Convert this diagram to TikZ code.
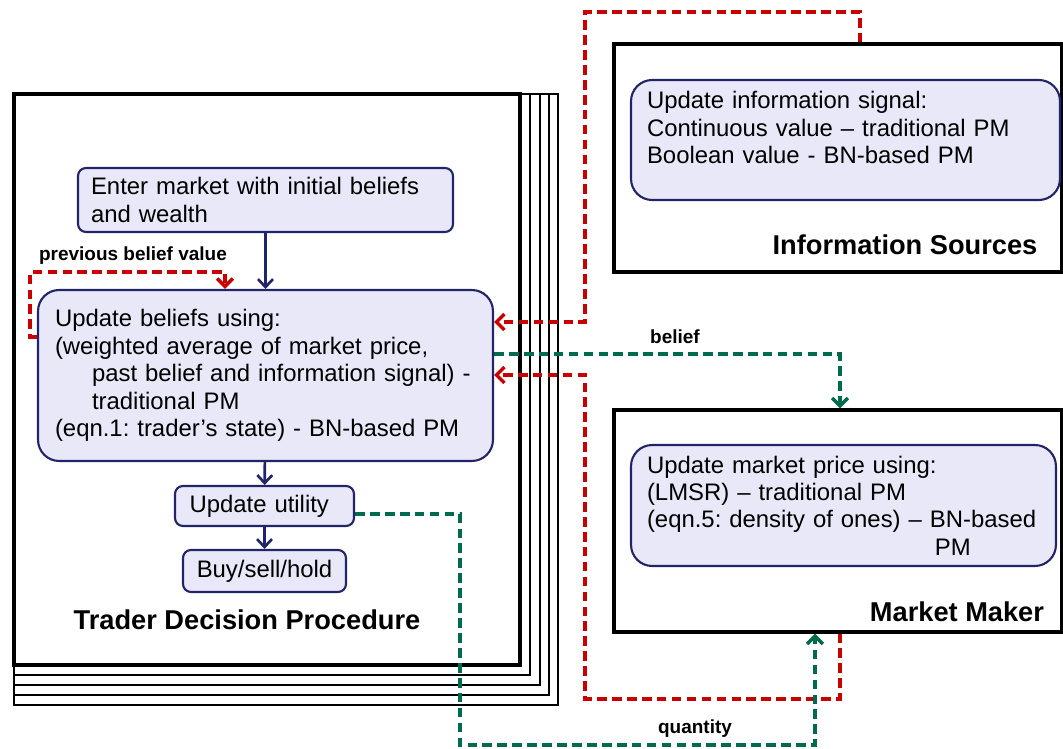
\documentclass[tikz,border=0pt]{standalone}
\usepackage{fontspec}
\setmainfont{Liberation Sans}
\usetikzlibrary{arrows.meta}
\definecolor{boxBorder}{RGB}{35,35,105}
\definecolor{boxFill}{RGB}{232,232,248}
\definecolor{infoRed}{RGB}{200,0,0}
\definecolor{tradeGreen}{RGB}{0,106,78}
\newcommand{\mainSize}{\fontsize{13.6}{15.6}\selectfont\frenchspacing}
\newcommand{\titleSize}{\fontsize{15.5}{18}\selectfont}
\newcommand{\labelSize}{\fontsize{10.8}{13}\selectfont}
\tikzstyle{pixelGrid} = [x = 0.02cm, y = -0.02cm]
\tikzstyle{stepBox} = [draw=boxBorder, fill=boxFill, line width=1.2pt, font=\mainSize, align=left]
\tikzstyle{outerBox} = [draw=black, line width=1.8pt, inner sep=0pt]
\tikzstyle{flowArrow} = [draw=boxBorder, line width=1.5pt, -{Straight Barb[length=4.5pt, width=8.5pt]}]
\tikzstyle{redDash} = [draw=infoRed, line width=2pt, dash pattern=on 5.5pt off 3pt, -{Straight Barb[length=4.5pt, width=9pt]}]
\tikzstyle{greenDash} = [draw=tradeGreen, line width=2pt, dash pattern=on 5.5pt off 3pt, -{Straight Barb[length=4.5pt, width=9pt]}]
\tikzstyle{titleText} = [font=\titleSize\bfseries]
\tikzstyle{flowLabel} = [font=\labelSize\bfseries]
\newcommand{\traderFrame}[3]{\draw [color=black, line width=#3] (14,94) rectangle (#1,#2);}

\begin{document}
\begin{tikzpicture}[pixelGrid]
            \useasboundingbox (0,0) rectangle (1063,749);

            \foreach \frameRight/\frameBottom in {558/705, 549/695, 540/685, 530/675} {
              \traderFrame{\frameRight}{\frameBottom}{1.3pt}
            }
            \traderFrame{520}{665}{2pt}

            \node [outerBox, minimum width=8.96cm, minimum height=4.56cm] (src) at (838,158) {};
            \node [outerBox, minimum width=8.96cm, minimum height=4.44cm] (mm) at (838,521) {};

            \node [stepBox, rounded corners=4.5pt, text width=6.98cm, inner xsep=0.26cm, minimum height=1.28cm] (enter) at (265.5,200)
              {Enter market with initial beliefs\\and wealth};
            \node [stepBox, rounded corners=12pt, text width=8.42cm, inner xsep=0.34cm, minimum height=3.42cm] (upd) at (265.5,375.5)
              {Update beliefs using:\\(weighted average of market price,\\\hspace*{0.74cm}\mbox{past belief and information signal) -}\\\hspace*{0.74cm}traditional PM\\(eqn.1: trader’s state) - BN-based PM};
            \node [stepBox, rounded corners=4.5pt, text width=3.0cm, inner xsep=0.29cm, minimum height=0.8cm] (util) at (264.5,506) {Update utility};
            \node [stepBox, rounded corners=4.5pt, align=center, minimum width=3.26cm, minimum height=0.84cm] (buy) at (264.5,571) {Buy/sell/hold};

            \node [stepBox, rounded corners=12pt, text width=7.94cm, inner xsep=0.32cm, minimum height=2.4cm, text depth=1.6cm] (sig) at (845.5,140)
              {Update information signal:\\Continuous value – traditional PM\\Boolean value - BN-based PM};
            \node [stepBox, rounded corners=12pt, text width=7.86cm, inner xsep=0.32cm, minimum height=2.42cm] (price) at (843.5,505.5)
              {Update market price using:\\(LMSR) – traditional PM\\\mbox{(eqn.5: density of ones) – BN-based}\\\hspace*{5.76cm}PM};

            \node [titleText] (traderTitle) at (247,620) {Trader Decision Procedure};
            \node [titleText] (srcTitle) at (905,245) {Information Sources};
            \node [titleText] (mmTitle) at (957,612) {Market Maker};

            \node [flowLabel] (prevLabel) at (133,256) {previous belief value};
            \node [flowLabel] (beliefLabel) at (675,337) {belief};
            \node [flowLabel] (quantityLabel) at (695,729) {quantity};

            \draw [flowArrow] (enter) -- (upd);
            \draw [flowArrow] (upd) -- (util);
            \draw [flowArrow] (util) -- (buy);

            \draw [redDash] (upd.west |- 0,337) -- (30,337) |- (225,272) -- (upd.north -| 225,0);
            \draw [redDash] (src.north -| 860,0) |- (585,12) |- (upd.east |- 0,322);
            \draw [redDash] (mm.south -| 840,0) |- (585,699) |- (upd.east |- 0,375);
            \draw [greenDash] (upd.east |- 0,354) -| (mm.north -| 840,0);
            \draw [greenDash] (util.east |- 0,514) -| (460,745) -| (mm.south -| 815,0);
          \end{tikzpicture}
\end{document}
